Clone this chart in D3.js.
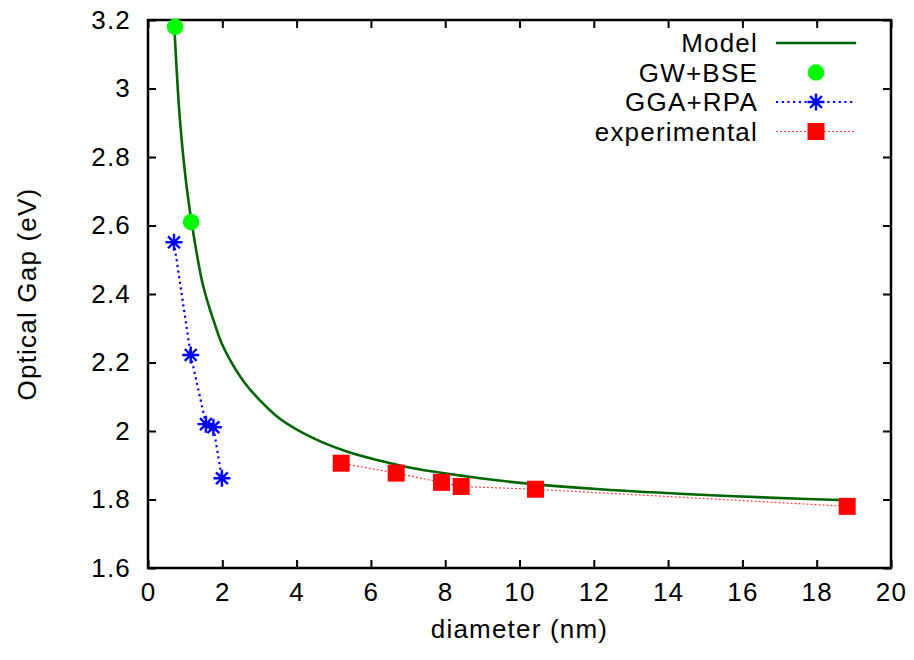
<!DOCTYPE html>
<html>
<head>
<meta charset="utf-8">
<script src="https://cdn.jsdelivr.net/npm/d3@7"></script>
<style>
  html, body { margin: 0; padding: 0; background: #fff; }
  svg { display: block; font-family: "Liberation Sans", Arial, sans-serif; }
  svg text { letter-spacing: 1.2px; }
</style>
</head>
<body>
<div id="chart"></div>
<script>
// values
const modelCurve = [
  [0.71, 3.179], [0.86, 2.908], [1.04, 2.713], [1.22, 2.578], [1.49, 2.421],
  [1.85, 2.295], [2.00, 2.252], [2.30, 2.190], [2.60, 2.141], [2.93, 2.099],
  [3.55, 2.036], [4.45, 1.979], [5.35, 1.940], [6.25, 1.913], [7.14, 1.891],
  [8.94, 1.862], [10.36, 1.845], [12.17, 1.830], [14.86, 1.814], [17.55, 1.802],
  [18.82, 1.798]
];
const gwBse = [[0.73, 3.18], [1.16, 2.61]];
const ggaRpa = [[0.70, 2.551], [1.15, 2.222], [1.56, 2.02], [1.76, 2.011], [1.99, 1.862]];
const experimental = [[5.20, 1.906], [6.68, 1.877], [7.90, 1.850], [8.43, 1.838], [10.43, 1.830], [18.82, 1.780]];

const xTicks = [0, 2, 4, 6, 8, 10, 12, 14, 16, 18, 20];
const yTicks = [1.6, 1.8, 2.0, 2.2, 2.4, 2.6, 2.8, 3.0, 3.2];
const legendLabels = ["Model", "GW+BSE", "GGA+RPA", "experimental"];

const width = 914, height = 660;
const margin = { top: 20, right: 23, bottom: 92, left: 148 };
const iw = width - margin.left - margin.right;
const ih = height - margin.top - margin.bottom;
const fs = 26;

const x = d3.scaleLinear().domain([0, 20]).range([0, iw]);
const y = d3.scaleLinear().domain([1.6, 3.2]).range([ih, 0]);

const svg = d3.select('#chart').append('svg')
  .attr('width', width)
  .attr('height', height);

const g = svg.append('g')
  .attr('transform', `translate(${margin.left},${margin.top})`);

const tickLen = 8;
const fmt = d => String(+d.toFixed(1));

// axes with inward ticks, mirrored on top/right
const axisStyle = sel => {
  sel.select('.domain').remove();
  sel.selectAll('.tick line').attr('stroke', '#000').attr('stroke-width', 2);
  sel.selectAll('text').attr('font-size', fs).attr('fill', '#000');
};

g.append('g').attr('transform', `translate(0,${ih})`)
  .call(d3.axisBottom(x).tickValues(xTicks).tickSize(-tickLen).tickPadding(15).tickFormat(d3.format('d')))
  .call(axisStyle);
g.append('g')
  .call(d3.axisTop(x).tickValues(xTicks).tickSize(-tickLen).tickFormat(''))
  .call(axisStyle);
g.append('g')
  .call(d3.axisLeft(y).tickValues(yTicks).tickSize(-tickLen).tickPadding(17).tickFormat(fmt))
  .call(axisStyle);
g.append('g').attr('transform', `translate(${iw},0)`)
  .call(d3.axisRight(y).tickValues(yTicks).tickSize(-tickLen).tickFormat(''))
  .call(axisStyle);

g.append('rect')
  .attr('width', iw).attr('height', ih)
  .attr('fill', 'none').attr('stroke', '#000').attr('stroke-width', 2.5);

// axis titles
svg.append('text')
  .attr('x', margin.left + iw / 2).attr('y', 638)
  .attr('text-anchor', 'middle').attr('font-size', fs)
  .text('diameter (nm)');
svg.append('text')
  .attr('transform', `translate(36,${margin.top + ih / 2}) rotate(-90)`)
  .attr('text-anchor', 'middle').attr('font-size', fs)
  .text('Optical Gap (eV)');

const line = d3.line().x(d => x(d[0])).y(d => y(d[1]));

// lines
g.append('path').datum(experimental).attr('d', line)
  .attr('fill', 'none').attr('stroke', '#ff0000').attr('stroke-opacity', 0.75)
  .attr('stroke-width', 1.2).attr('stroke-dasharray', '2,2');
g.append('path').datum(ggaRpa).attr('d', line)
  .attr('fill', 'none').attr('stroke', '#0000ff')
  .attr('stroke-width', 2.2).attr('stroke-dasharray', '2.2,3.5');
g.append('path').datum(modelCurve)
  .attr('d', d3.line().curve(d3.curveCatmullRom.alpha(0.5)).x(d => x(d[0])).y(d => y(d[1])))
  .attr('fill', 'none').attr('stroke', '#006400').attr('stroke-width', 2.6);

// markers
const star = (sel, s) => {
  sel.append('path')
    .attr('d', `M${-s},0H${s}M0,${-s}V${s}M${-s * 0.7},${-s * 0.7}L${s * 0.7},${s * 0.7}M${-s * 0.7},${s * 0.7}L${s * 0.7},${-s * 0.7}`)
    .attr('stroke', '#0000ff').attr('stroke-width', 2.4).attr('fill', 'none');
};
const square = (sel, s) => {
  sel.append('rect').attr('x', -s / 2).attr('y', -s / 2).attr('width', s).attr('height', s)
    .attr('fill', '#ff0000');
};
const dot = (sel, r) => {
  sel.append('circle').attr('r', r).attr('fill', '#00ff00');
};

g.selectAll('.gga').data(ggaRpa).enter().append('g')
  .attr('transform', d => `translate(${x(d[0])},${y(d[1])})`)
  .each(function () { star(d3.select(this), 8.5); });
g.selectAll('.exp').data(experimental).enter().append('g')
  .attr('transform', d => `translate(${x(d[0])},${y(d[1])})`)
  .each(function () { square(d3.select(this), 17); });
g.selectAll('.gw').data(gwBse).enter().append('g')
  .attr('transform', d => `translate(${x(d[0])},${y(d[1])})`)
  .each(function () { dot(d3.select(this), 8.3); });

// legend
const lg = svg.append('g');
const rowY = i => 43 + i * 29.5;
const x0 = 776, x1 = 856, xm = 816;
legendLabels.forEach((lab, i) => {
  lg.append('text')
    .attr('x', 758).attr('y', rowY(i)).attr('dy', '0.36em')
    .attr('text-anchor', 'end').attr('font-size', fs)
    .text(lab);
});
lg.append('line').attr('x1', x0).attr('x2', x1).attr('y1', rowY(0)).attr('y2', rowY(0))
  .attr('stroke', '#006400').attr('stroke-width', 2.6);
dot(lg.append('g').attr('transform', `translate(${xm},${rowY(1)})`), 8.3);
lg.append('line').attr('x1', x0).attr('x2', x1).attr('y1', rowY(2)).attr('y2', rowY(2))
  .attr('stroke', '#0000ff').attr('stroke-width', 2.2).attr('stroke-dasharray', '2.2,3.5');
star(lg.append('g').attr('transform', `translate(${xm},${rowY(2)})`), 8.5);
lg.append('line').attr('x1', x0).attr('x2', x1).attr('y1', rowY(3)).attr('y2', rowY(3))
  .attr('stroke', '#ff0000').attr('stroke-opacity', 0.75).attr('stroke-width', 1.2).attr('stroke-dasharray', '2,2');
square(lg.append('g').attr('transform', `translate(${xm},${rowY(3)})`), 17);
</script>
</body>
</html>
